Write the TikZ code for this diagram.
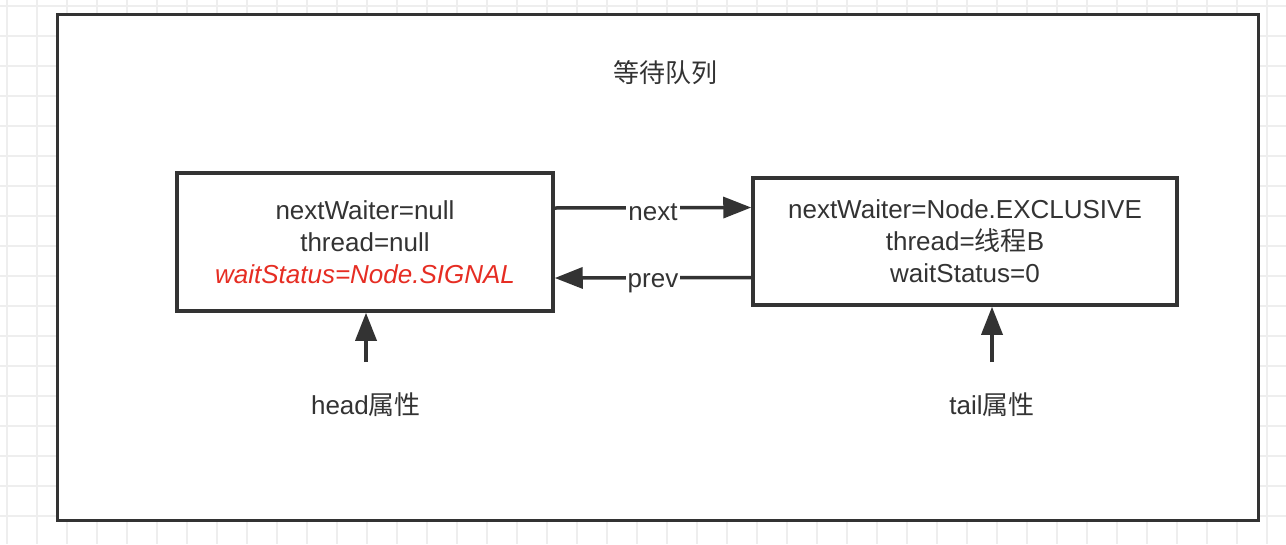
\documentclass[tikz,border=0pt]{standalone}
\usepackage{fontspec}
\setmainfont{Liberation Sans}
\newfontfamily\cjk{Noto Sans CJK SC}
\usetikzlibrary{
        arrows.meta,
        positioning
    }
\definecolor{ink}{RGB}{51,51,51}
\definecolor{gridline}{RGB}{238,238,238}
\definecolor{sigred}{RGB}{230,45,35}
\tikzset{qnode/.style={draw=ink,line width=3.5pt,fill=white,align=center,text=ink,inner sep=0pt,font=\fontsize{26}{32}\selectfont}}
\tikzset{lbl/.style={text=ink,inner sep=2pt,font=\fontsize{26}{30}\selectfont}}
\tikzset{link/.style={-{Triangle[length=28pt,width=21pt]},draw=ink,line width=3.5pt}}

\begin{document}
\begin{tikzpicture}[x=1pt,y=-1pt]
                \useasboundingbox (0,0) rectangle (1286,544);
                \foreach \x in {7,37,...,1286} \draw[gridline,line width=2pt] (\x,0) -- (\x,544);
                \foreach \y in {6,36,...,544} \draw[gridline,line width=2pt] (0,\y) -- (1286,\y);
                \node[draw=ink,line width=3pt,fill=white,minimum width=1201pt,minimum height=506pt,inner sep=0pt] (queue) at (657.5,267) {};
                \node[lbl,font=\cjk\fontsize{26}{30}\selectfont] (title) at (665,73) {等待队列};
                \node[qnode,minimum width=376pt,minimum height=138pt] (first) at (365,242)
                    {nextWaiter=null\\thread=null\\{\color{sigred}\itshape waitStatus=Node.SIGNAL}};
                \node[qnode,minimum width=424pt,minimum height=127pt] (second) at (965,241.5)
                    {nextWaiter=Node.EXCLUSIVE\\thread={\cjk 线程}B\\waitStatus=0};
                \node[lbl] (head) at (366,405) {head{\cjk 属性}};
                \node[lbl] (tail) at (992,405) {tail{\cjk 属性}};
                \coordinate (headfrom) at (366,362);
                \coordinate (tailfrom) at (992,362);
                \path
                    ([yshift=34pt]first.east) edge[link] node[lbl,fill=white,yshift=-4pt] {next} ([yshift=34pt]second.west)
                    ([yshift=-36pt]second.west) edge[link] node[lbl,fill=white,yshift=-5pt] {prev} ([yshift=-36pt]first.east)
                    (headfrom) edge[link] (first.south -| headfrom)
                    (tailfrom) edge[link] (second.south -| tailfrom);
            \end{tikzpicture}
\end{document}
